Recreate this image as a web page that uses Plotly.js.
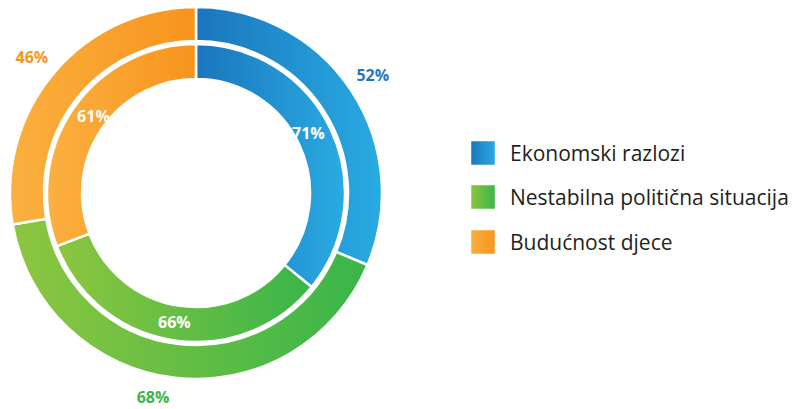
<!DOCTYPE html>
<html><head><meta charset="utf-8">
<script src="https://cdn.plot.ly/plotly-3.0.1.min.js"></script>
<style>html,body{margin:0;padding:0;background:#fff}#chart{width:793px;height:409px}</style>
</head><body><div id="chart"></div>
<script>
// ---- data ----
const categories = ['Ekonomski razlozi', 'Nestabilna politična situacija', 'Budućnost djece'];
const outerValues = [52, 68, 46];
const innerValues = [71, 66, 61];

// ---- styles ----
const colors = ['#2290d0', '#62bd45', '#f9a22e'];
const gradientStops = [['#1b75bc', '#29abe2'], ['#8dc63f', '#39b54a'], ['#fbb040', '#f7941d']];
const labelColors = ['#1f78c1', '#3bb54a', '#f7941d'];

const W = 793, H = 409, cx = 196, cy = 193;
function dom(r) { return {x: [(cx - r) / W, (cx + r) / W], y: [(H - cy - r) / H, (H - cy + r) / H]}; }

const outer = {
  type: 'pie', labels: categories, values: outerValues,
  domain: dom(186), hole: 152 / 186, sort: false, direction: 'clockwise', rotation: 0,
  marker: {colors: colors, line: {color: '#ffffff', width: 2.5}},
  texttemplate: '%{value}%', textposition: 'outside',
  textfont: {family: 'Open Sans', size: 16, weight: 700, color: labelColors},
  hoverinfo: 'none', showlegend: true
};
const inner = {
  type: 'pie', labels: categories, values: innerValues,
  domain: dom(149), hole: 114 / 149, sort: false, direction: 'clockwise', rotation: 0,
  marker: {colors: colors, line: {color: '#ffffff', width: 2.5}},
  texttemplate: '%{value}%', textposition: 'inside', insidetextorientation: 'auto',
  textfont: {family: 'Open Sans', size: 10, weight: 700, color: '#ffffff'},
  hoverinfo: 'none', showlegend: false
};

const layout = {
  width: W, height: H, margin: {l: 0, r: 0, t: 0, b: 0},
  paper_bgcolor: '#ffffff', plot_bgcolor: '#ffffff',
  font: {family: 'Open Sans', color: '#231f20'},
  uniformtext: {mode: 'show', minsize: 16},
  showlegend: true,
  legend: {x: 0.5, y: 0.5, xanchor: 'left', yanchor: 'middle', bgcolor: 'rgba(0,0,0,0)',
           font: {family: 'Open Sans', size: 21, color: '#231f20'}, traceorder: 'normal'}
};

const legendCenters = [153, 197, 242];
const pushUp = 12, pushDown = 8;

function hexToRgb(h) {
  const n = parseInt(h.slice(1), 16);
  return 'rgb(' + ((n >> 16) & 255) + ',' + ((n >> 8) & 255) + ',' + (n & 255) + ')';
}
function parseT(el) {
  const m = /translate\(\s*([-\d.e]+)[ ,]+([-\d.e]+)\s*\)/.exec(el.getAttribute('transform') || '');
  return m ? {x: +m[1], y: +m[2]} : {x: 0, y: 0};
}

Plotly.newPlot('chart', [outer, inner], layout, {displayModeBar: false}).then(function (gd) {
  const NS = 'http://www.w3.org/2000/svg';
  const svg = gd.querySelector('svg.main-svg');
  let defs = svg.querySelector('defs');
  if (!defs) { defs = document.createElementNS(NS, 'defs'); svg.insertBefore(defs, svg.firstChild); }
  const map = {};
  colors.forEach(function (c, i) {
    const lg = document.createElementNS(NS, 'linearGradient');
    lg.setAttribute('id', 'grad' + i);
    lg.setAttribute('x1', '0'); lg.setAttribute('y1', '0'); lg.setAttribute('x2', '1'); lg.setAttribute('y2', '0');
    gradientStops[i].forEach(function (s, k) {
      const st = document.createElementNS(NS, 'stop');
      st.setAttribute('offset', k === 0 ? '0' : '1');
      st.setAttribute('stop-color', s);
      lg.appendChild(st);
    });
    defs.appendChild(lg);
    map[hexToRgb(c)] = 'url(#grad' + i + ')';
  });
  gd.querySelectorAll('path.surface, path.legendpie').forEach(function (p) {
    const f = (p.style.fill || '').replace(/\s/g, '');
    if (map[f]) p.style.fill = map[f];
  });

  const traces = gd.querySelectorAll('.pielayer g.trace');
  // push outside labels of the outer ring a little further away vertically
  if (traces.length) {
    traces[0].querySelectorAll('g.slicetext').forEach(function (g) {
      const r = g.getBoundingClientRect();
      const my = r.top + r.height / 2;
      g.setAttribute('transform', 'translate(0,' + (my < cy ? -pushUp : pushDown) + ')');
    });
  }
  // keep the inner ring labels horizontal (centred at the slice middle)
  if (traces.length > 1) {
    traces[1].querySelectorAll('g.slicetext text').forEach(function (t) {
      const tr = t.getAttribute('transform') || '';
      t.setAttribute('transform', tr.replace(/rotate\([^)]*\)/, ''));
    });
  }

  const leg = gd.querySelector('g.legend');
  if (leg) {
    leg.querySelectorAll('[clip-path]').forEach(function (e) { e.removeAttribute('clip-path'); });
    leg.querySelectorAll('g.traces').forEach(function (it, i) {
      const txt = it.querySelector('text.legendtext');
      const tx = parseFloat(txt.getAttribute('x')) || 40;
      const sw = it.querySelector('path.legendpie');
      if (sw) {
        sw.setAttribute('d', 'M13,13H-13V-13H13Z');
        sw.setAttribute('transform', 'translate(' + (tx - 14 - 13) + ',0)');
        const r = sw.getBoundingClientRect();
        const t = parseT(it);
        it.setAttribute('transform', 'translate(' + (t.x + 470 - r.left) + ',' + (t.y + (legendCenters[i] - 13) - r.top) + ')');
      }
    });
  }
});
</script>
</body></html>
